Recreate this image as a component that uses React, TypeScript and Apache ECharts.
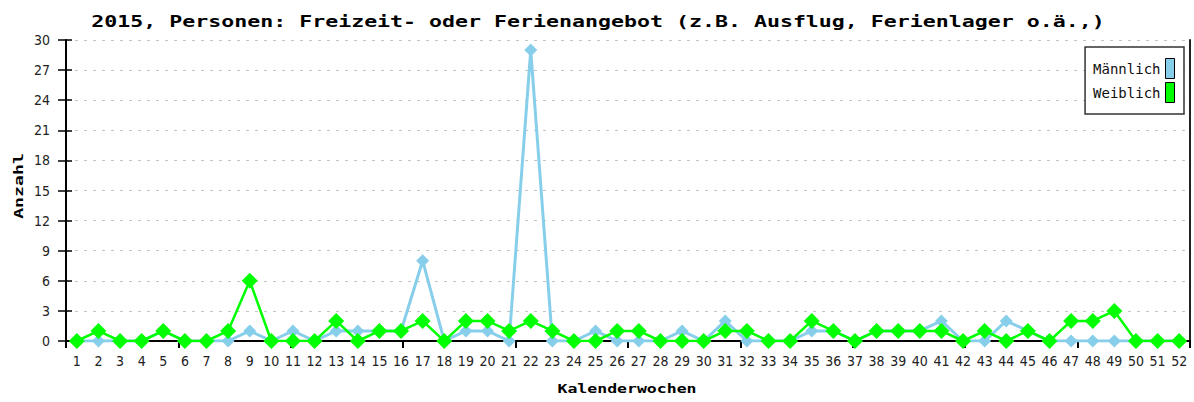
import React, { useEffect, useRef } from "react";
import * as echarts from "echarts";

const TITLE = "2015, Personen: Freizeit- oder Ferienangebot (z.B. Ausflug, Ferienlager o.ä.,)";
const X_NAME = "Kalenderwochen";
const Y_NAME = "Anzahl";

const weeks: string[] = Array.from({ length: 52 }, (_, i) => String(i + 1));

const maennlich: number[] = [
  0, 0, 0, 0, 1, 0, 0, 0, 1, 0,
  1, 0, 1, 1, 1, 1, 8, 0, 1, 1,
  0, 29, 0, 0, 1, 0, 0, 0, 1, 0,
  2, 0, 0, 0, 1, 1, 0, 1, 1, 1,
  2, 0, 0, 2, 1, 0, 0, 0, 0, 0,
  0, 0,
];

const weiblich: number[] = [
  0, 1, 0, 0, 1, 0, 0, 1, 6, 0,
  0, 0, 2, 0, 1, 1, 2, 0, 2, 2,
  1, 2, 1, 0, 0, 1, 1, 0, 0, 0,
  1, 1, 0, 0, 2, 1, 0, 1, 1, 1,
  1, 0, 1, 0, 1, 0, 2, 2, 3, 0,
  0, 0,
];

const yTicks = { min: 0, max: 30, interval: 3 };

const MONO = '"DejaVu Sans Mono", "Liberation Mono", monospace';
const SANS = '"DejaVu Sans Condensed", "DejaVu Sans", sans-serif';

export default function App() {
  const ref = useRef<HTMLDivElement>(null);

  useEffect(() => {
    document.body.style.margin = "0";
    const chart = echarts.init(ref.current!, undefined, { renderer: "svg" });
    const option: any = {
      animation: false,
      backgroundColor: "#ffffff",
      grid: { left: 66, right: 4, top: 40, bottom: 61 },
      graphic: [
        {
          type: "text",
          x: 598,
          y: 22,
          scaleX: 1.44,
          style: {
            text: TITLE,
            font: `bold 15px ${MONO}`,
            fill: "#000",
            align: "center",
            verticalAlign: "middle",
          },
        },
        {
          type: "text",
          x: 627,
          y: 389,
          scaleX: 1.27,
          style: {
            text: X_NAME,
            font: `bold 13px ${MONO}`,
            fill: "#000",
            align: "center",
            verticalAlign: "middle",
          },
        },
        {
          type: "text",
          x: 18,
          y: 186,
          rotation: Math.PI / 2,
          scaleX: 1.4,
          style: {
            text: Y_NAME,
            font: `bold 13px ${MONO}`,
            fill: "#000",
            align: "center",
            verticalAlign: "middle",
          },
        },
      ],
      legend: {
        orient: "vertical",
        right: 10,
        top: 47,
        align: "right",
        icon: "rect",
        itemWidth: 9,
        itemHeight: 20,
        itemGap: 3,
        padding: [11, 9, 11, 8],
        backgroundColor: "#ffffff",
        borderColor: "#333",
        borderWidth: 1.5,
        textStyle: { fontFamily: MONO, fontSize: 14, color: "#111" },
        itemStyle: { borderColor: "#000", borderWidth: 1 },
        data: ["Männlich", "Weiblich"],
      },
      xAxis: [
        {
          type: "category",
          data: weeks,
          boundaryGap: true,
          axisLine: { show: true, lineStyle: { color: "#000", width: 2 } },
          axisTick: { show: false },
          axisLabel: { interval: 0, margin: 13, color: "#222", fontSize: 14, fontFamily: SANS },
          splitLine: { show: false },
        },
        {
          type: "value",
          min: 0,
          max: 10,
          interval: 1,
          position: "bottom",
          axisLine: { show: false },
          axisTick: { show: true, length: 7, lineStyle: { color: "#000", width: 2 } },
          axisLabel: { show: false },
          splitLine: { show: false },
        },
      ],
      yAxis: [
        {
          type: "value",
          ...yTicks,
          axisLine: { show: true, lineStyle: { color: "#000", width: 2 } },
          axisTick: { show: true, length: 8, lineStyle: { color: "#000", width: 1.5 } },
          axisLabel: { margin: 16, color: "#222", fontSize: 14, fontFamily: SANS },
          splitLine: { show: true, lineStyle: { color: "#c4c4c4", type: [3, 6], width: 1 } },
        },
        {
          type: "value",
          ...yTicks,
          position: "left",
          axisLine: { show: false },
          axisTick: { show: true, inside: true, length: 6, lineStyle: { color: "#000", width: 1.5 } },
          axisLabel: { show: false },
          splitLine: { show: false },
        },
        {
          type: "value",
          ...yTicks,
          position: "right",
          axisLine: { show: true, lineStyle: { color: "#222", width: 2 } },
          axisTick: { show: false },
          axisLabel: { show: false },
          splitLine: { show: false },
        },
      ],
      series: [
        {
          name: "Männlich",
          type: "line",
          data: maennlich,
          symbol: "diamond",
          symbolSize: 13,
          color: "#87CEEB",
          lineStyle: { color: "#87CEEB", width: 3 },
          itemStyle: { color: "#87CEEB" },
          z: 2,
        },
        {
          name: "Weiblich",
          type: "line",
          data: weiblich,
          symbol: "diamond",
          symbolSize: 16,
          color: "#00FF00",
          lineStyle: { color: "#00FF00", width: 2.5 },
          itemStyle: { color: "#00FF00" },
          z: 3,
        },
      ],
    };
    chart.setOption(option);
    return () => chart.dispose();
  }, []);

  return (
    <div
      ref={ref}
      style={{ position: "absolute", left: 0, top: 0, width: 1194, height: 402 }}
    />
  );
}
